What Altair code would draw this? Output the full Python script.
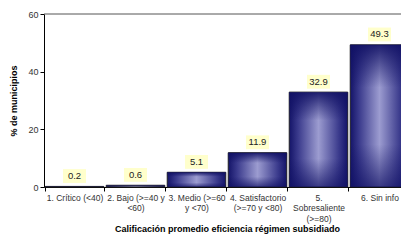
import altair as alt
import pandas as pd

categories = ["1. Crítico (<40)", "2. Bajo (>=40 y|<60)", "3. Medio (>=60|y <70)",
              "4. Satisfactorio|(>=70 y <80)", "5.|Sobresaliente|(>=80)", "6. Sin info"]
values = [0.2, 0.6, 5.1, 11.9, 32.9, 49.3]
value_labels = ["0.2", "0.6", "5.1", "11.9", "32.9", "49.3"]
y_ticks = [0, 10, 20, 30, 40, 50, 60]

df = pd.DataFrame({"cat": categories, "val": values, "lab": value_labels})
top_df = pd.DataFrame({"v": [60]})

FONT = "Liberation Sans"

x = alt.X("cat:N", sort=categories,
          scale=alt.Scale(paddingInner=0.04, paddingOuter=0.02, range=[0, 366]),
          axis=alt.Axis(title="Calificación promedio eficiencia régimen subsidiado",
                        labelExpr="split(datum.label, '|')", labelAngle=0,
                        tickBand="extent", tickSize=4, labelFontSize=8.5,
                        labelColor="#333", labelPadding=2, labelLineHeight=10.5,
                        titleFontSize=9, titleFontWeight="bold", titlePadding=2,
                        domainColor="#000", tickColor="#000", labelFont=FONT, titleFont=FONT))
y = alt.Y("val:Q", scale=alt.Scale(domain=[0, 60], nice=False),
          axis=alt.Axis(title="% de municipios", values=y_ticks,
                        tickSize=4, labelFontSize=9, labelColor="#333", grid=False,
                        titleFontSize=9, titleFontWeight="bold", titlePadding=9,
                        domainColor="#000", tickColor="#000", labelFont=FONT, titleFont=FONT))

horiz = alt.Gradient(gradient="linear", x1=0, x2=1, y1=0, y2=0,
                     stops=[alt.GradientStop(color="#141468", offset=0),
                            alt.GradientStop(color="#3a3a8c", offset=0.15),
                            alt.GradientStop(color="#9c9cd0", offset=0.5),
                            alt.GradientStop(color="#3a3a8c", offset=0.85),
                            alt.GradientStop(color="#141468", offset=1)])
vert = alt.Gradient(gradient="linear", x1=0, x2=0, y1=0, y2=1,
                    stops=[alt.GradientStop(color="rgba(16,16,100,0.9)", offset=0),
                           alt.GradientStop(color="rgba(16,16,100,0.0)", offset=0.3),
                           alt.GradientStop(color="rgba(16,16,100,0.0)", offset=0.7),
                           alt.GradientStop(color="rgba(16,16,100,0.7)", offset=1)])

base = alt.Chart(df)
bars = base.mark_bar(color=horiz, stroke="#222", strokeWidth=1).encode(x=x, y=y)
bars2 = base.mark_bar(color=vert).encode(x=x, y=y)
boxes = base.transform_calculate(lo="datum.val + 1.2", hi="datum.val + 6").mark_bar(
    color="#ffffcc", size=23).encode(x=x, y="lo:Q", y2="hi:Q")
texts = base.transform_calculate(mid="datum.val + 3.6").mark_text(
    fontSize=9.5, font=FONT, color="#222").encode(x=x, y="mid:Q", text="lab:N")
top_line = alt.Chart(top_df).mark_rule(color="#555", strokeWidth=1).encode(
    y=alt.Y("v:Q", scale=alt.Scale(domain=[0, 60], nice=False)),
    x=alt.value(0), x2=alt.value(366))

chart = alt.layer(bars, bars2, boxes, texts, top_line).properties(
    width=357, height=173, autosize=alt.AutoSizeParams(type="none"),
    padding={"left": 36, "top": 6, "right": 0, "bottom": 49}
).configure_view(stroke=None)

chart.save("out.html", embed_options={"renderer": "svg", "actions": False})
